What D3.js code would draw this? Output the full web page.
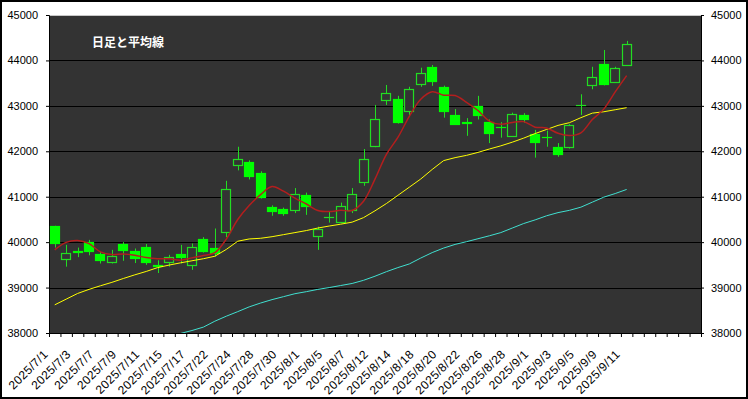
<!DOCTYPE html>
<html><head><meta charset="utf-8">
<script src="https://cdn.jsdelivr.net/npm/d3@7"></script>
<style>
html,body{margin:0;padding:0;background:#fff;}
svg{display:block;}
</style></head>
<body>
<svg id="chart" width="748" height="399"></svg>
<script>
const dates = ["2025/7/1","2025/7/2","2025/7/3","2025/7/4","2025/7/7","2025/7/8","2025/7/9","2025/7/10","2025/7/11","2025/7/14",
"2025/7/15","2025/7/16","2025/7/17","2025/7/18","2025/7/22","2025/7/23","2025/7/24","2025/7/25","2025/7/28","2025/7/29",
"2025/7/30","2025/7/31","2025/8/1","2025/8/4","2025/8/5","2025/8/6","2025/8/7","2025/8/8","2025/8/12","2025/8/13",
"2025/8/14","2025/8/15","2025/8/18","2025/8/19","2025/8/20","2025/8/21","2025/8/22","2025/8/25","2025/8/26","2025/8/27",
"2025/8/28","2025/8/29","2025/9/1","2025/9/2","2025/9/3","2025/9/4","2025/9/5","2025/9/8","2025/9/9","2025/9/10","2025/9/11"];
const opens = [40350,39640,39805,40000,39730,39560,39960,39800,39890,39490,39560,39740,39510,40080,39880,40230,41700,41770,41530,40770,
40740,40710,41045,40140,40540,40450,40700,41310,42120,43110,43145,42900,43475,43855,43415,42800,42645,43000,42640,42530,
42340,42800,42375,42320,42090,42100,43010,43475,43920,43530,43915];
const highs = [40360,39940,39880,40050,39780,39830,40000,39860,39960,39600,39720,39940,39970,40110,40300,41350,42100,41800,41560,40810,
40760,41190,41090,40340,40670,40870,41190,42050,43020,43460,43220,43420,43840,43900,43445,42930,42730,43220,42700,42640,
42850,42840,42470,42455,42180,42600,43255,43860,44230,43860,44430];
const lows = [39880,39460,39670,39710,39530,39530,39590,39540,39500,39320,39460,39530,39390,39770,39680,40110,41580,41380,40960,40580,
40580,40640,40600,39830,40430,40420,40640,41240,42090,43020,42610,42780,43420,43440,42740,42590,42340,42700,42180,42300,
42330,42630,41860,42100,41880,42060,42800,43365,43450,43520,43900];
const closes = [39986,39762,39785,39810,39587,39688,39821,39646,39569,39459,39678,39663,39901,39819,39774,41171,41826,41456,40998,40674,
40654,41069,40799,40290,40549,40794,41059,41820,42718,43274,42649,43378,43714,43546,42888,42610,42633,42807,42394,42520,
42828,42718,42188,42310,41938,42580,43018,43643,43470,43837,44372];
const ma5 = [39830,39994,40034,39966,39786,39726,39738,39710,39662,39637,39635,39603,39654,39704,39767,40066,40498,40809,41045,41225,
41122,40970,40839,40697,40672,40700,40698,40902,41388,41933,42304,42768,43147,43312,43235,43227,43078,42897,42666,42593,
42636,42653,42530,42513,42396,42347,42407,42698,42928,43307,43666];
const ma25 = [38620,38745,38870,38960,39040,39115,39200,39280,39355,39440,39495,39545,39590,39635,39690,39840,40020,40070,40085,40120,
40165,40210,40255,40310,40355,40395,40440,40540,40690,40850,41030,41210,41390,41600,41795,41860,41910,41975,42050,42120,
42200,42290,42390,42480,42570,42630,42740,42840,42870,42915,42960];
const ma75 = [null,null,null,null,null,null,null,null,null,null,null,37990,38055,38130,38260,38370,38470,38575,38660,38735,
38800,38865,38910,38960,39000,39045,39090,39160,39250,39350,39440,39520,39650,39770,39870,39950,40010,40075,40140,40210,
40310,40410,40490,40580,40650,40700,40770,40880,40990,41070,41160];
const yTicks = [38000,39000,40000,41000,42000,43000,44000,45000];
const title = "日足と平均線";
const slotCount = 57;

const W = 748, H = 399;
const L = 49, R = 701, T = 15, B = 333;
const svg = d3.select("#chart");
const font = "'Liberation Sans', Arial, sans-serif";

svg.append("rect").attr("x",1).attr("y",1).attr("width",W-2).attr("height",H-2)
  .attr("fill","#fff").attr("stroke","#000").attr("stroke-width",2);

const x = d3.scaleBand().domain(d3.range(slotCount)).range([L,R]).paddingInner(0).paddingOuter(0);
const xEdge = d3.scaleLinear().domain([0,slotCount]).range([L,R]);
const y = d3.scaleLinear().domain([38000,45000]).range([B,T]);
const cx = i => x(i) + x.bandwidth()/2;

svg.append("defs").append("clipPath").attr("id","plotclip")
  .append("rect").attr("x",L).attr("y",T).attr("width",R-L).attr("height",B-T);

svg.append("rect").attr("x",L).attr("y",T).attr("width",R-L).attr("height",B-T).attr("fill","#333333");

// gridlines
svg.append("g").selectAll("line").data(yTicks.filter(v=>v>38000 && v<45000)).join("line")
  .attr("x1",L).attr("x2",R).attr("y1",d=>Math.round(y(d))+0.5).attr("y2",d=>Math.round(y(d))+0.5)
  .attr("stroke","#000").attr("stroke-width",1);
// top border
svg.append("line").attr("x1",L).attr("x2",R).attr("y1",T+0.5).attr("y2",T+0.5).attr("stroke","#c8c8c8");

// axes
const fmt = d3.format("d");
const gL = svg.append("g").attr("transform",`translate(${L},0)`)
  .call(d3.axisLeft(y).tickValues(yTicks).tickFormat(fmt).tickSize(3).tickPadding(8));
const gR = svg.append("g").attr("transform",`translate(${R},0)`)
  .call(d3.axisRight(y).tickValues(yTicks).tickFormat(fmt).tickSize(3).tickPadding(7));
const gB = svg.append("g").attr("transform",`translate(0,${B})`)
  .call(d3.axisBottom(xEdge).tickValues(d3.range(slotCount+1)).tickFormat("").tickSize(4));
[gL,gR,gB].forEach(g=>{
  g.selectAll("path").attr("stroke","#000");
  g.selectAll("line").attr("stroke","#000");
  g.selectAll("text").attr("font-family",font).attr("font-size","11px").attr("fill","#000");
});

// x labels
svg.append("g").selectAll("text").data(dates.map((d,i)=>({d,i})).filter(o=>o.i%2===0)).join("text")
  .attr("transform",o=>`translate(${cx(o.i)-6},${B+22}) rotate(-45)`)
  .attr("text-anchor","end")
  .attr("font-family",font).attr("font-size","12px").attr("letter-spacing","0.4px").attr("fill","#000")
  .text(o=>o.d);

// candles
const plot = svg.append("g").attr("clip-path","url(#plotclip)");
const data = dates.map((d,i)=>({i,o:opens[i],h:highs[i],l:lows[i],c:closes[i]}));
const lineCol = "#22dd22", fillCol = "#00ff00";
plot.append("g").selectAll("line").data(data).join("line")
  .attr("x1",d=>Math.round(cx(d.i))+0.5).attr("x2",d=>Math.round(cx(d.i))+0.5)
  .attr("y1",d=>y(d.h)).attr("y2",d=>y(d.l))
  .attr("stroke",lineCol).attr("stroke-width",1);
const bw = 10;
plot.append("g").selectAll("rect").data(data).join("rect")
  .attr("x",d=>Math.round(cx(d.i))-4.5)
  .attr("width",bw-1)
  .attr("y",d=>Math.round(y(Math.max(d.o,d.c)))+0.5)
  .attr("height",d=>Math.max(0.01,Math.round(Math.abs(y(d.o)-y(d.c)))))
  .attr("fill",d=>d.c>=d.o ? "#333333" : fillCol)
  .attr("stroke",d=>d.c>=d.o ? lineCol : fillCol)
  .attr("stroke-width",1.2);

// moving averages
const line = (curve)=>d3.line().defined(v=>v[1]!=null).x(v=>cx(v[0])).y(v=>y(v[1])).curve(curve);
plot.append("path").datum(ma75.map((v,i)=>[i,v])).attr("d",line(d3.curveLinear))
  .attr("fill","none").attr("stroke","#40e0d0").attr("stroke-width",1);
plot.append("path").datum(ma25.map((v,i)=>[i,v])).attr("d",line(d3.curveLinear))
  .attr("fill","none").attr("stroke","#ffff00").attr("stroke-width",1);
plot.append("path").datum(ma5.map((v,i)=>[i,v])).attr("d",line(d3.curveCatmullRom.alpha(0.5)))
  .attr("fill","none").attr("stroke","#b41e1e").attr("stroke-width",1.5);

// title
svg.append("text").attr("x",92).attr("y",46.5)
  .attr("font-family","'Noto Sans CJK JP', sans-serif").attr("font-weight","bold")
  .attr("font-size","12px").attr("fill","#fff").text(title);
</script>
</body></html>
